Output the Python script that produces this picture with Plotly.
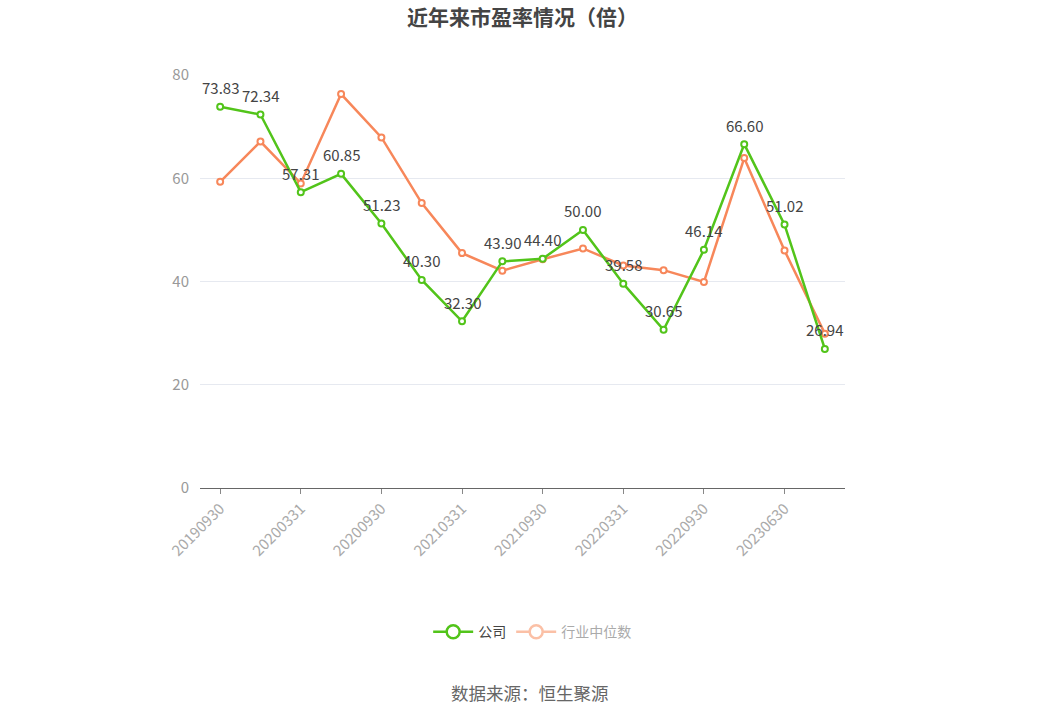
import plotly.graph_objects as go

FONT = "Noto Sans CJK SC"

dates = [
    "20190930", "20191231", "20200331", "20200630",
    "20200930", "20201231", "20210331", "20210630",
    "20210930", "20211231", "20220331", "20220630",
    "20220930", "20221231", "20230630", "20230930",
]
company_pe = [73.83, 72.34, 57.31, 60.85, 51.23, 40.30, 32.30, 43.90,
              44.40, 50.00, 39.58, 30.65, 46.14, 66.60, 51.02, 26.94]
industry_median = [59.3, 67.1, 59.0, 76.3, 67.9, 55.2, 45.5, 42.1,
                   44.3, 46.4, 43.1, 42.2, 39.9, 63.9, 46.0, 29.9]
y_ticks = [0, 20, 40, 60, 80]

GREEN = "#52C41A"
ORANGE = "#F7875A"

fig = go.Figure()
fig.add_trace(go.Scatter(
    x=dates, y=industry_median, mode="lines+markers", showlegend=False,
    line=dict(color=ORANGE, width=2.5),
    marker=dict(symbol="circle", size=6, color="white", line=dict(color=ORANGE, width=2)),
))
fig.add_trace(go.Scatter(
    x=dates, y=company_pe, mode="lines+markers", showlegend=False,
    line=dict(color=GREEN, width=2.5),
    marker=dict(symbol="circle", size=6, color="white", line=dict(color=GREEN, width=2)),
))

# legend entries with bigger symbols
fig.add_trace(go.Scatter(
    x=[None], y=[None], name="公司", mode="lines+markers",
    line=dict(color=GREEN, width=2.5),
    marker=dict(symbol="circle", size=13, color="white", line=dict(color=GREEN, width=2.5)),
))
fig.add_trace(go.Scatter(
    x=[None], y=[None], name='<span style="color:#aaaaaa">行业中位数</span>', mode="lines+markers",
    line=dict(color="#FBC0A6", width=2.5),
    marker=dict(symbol="circle", size=13, color="white", line=dict(color="#FBC0A6", width=2.5)),
))

# value labels; x is the category index (date strings look numeric to annotations)
for i, v in enumerate(company_pe):
    fig.add_annotation(x=i, y=v, text=f"{v:.2f}", showarrow=False, yshift=19,
                       font=dict(size=15, color="#444444", family=FONT))

fig.update_layout(
    width=1062, height=718,
    paper_bgcolor="white", plot_bgcolor="white",
    margin=dict(l=200, r=217, t=75, b=230),
    font=dict(family=FONT, color="#999999"),
    title=dict(text="<b>近年来市盈率情况（倍）</b>", xref="paper", x=0.5, xanchor="center",
               y=0.976, yanchor="middle",
               font=dict(size=21, color="#444444", family=FONT)),
    legend=dict(orientation="h", x=0.515, xanchor="center", y=-0.349, yanchor="middle",
                font=dict(size=14, color="#444444"), traceorder="normal", itemwidth=40),
)
fig.add_annotation(text="数据来源：恒生聚源", xref="paper", yref="paper", x=0.512, y=-0.496,
                   yanchor="middle", showarrow=False,
                   font=dict(size=17.5, color="#666666", family=FONT))
fig.update_xaxes(
    type="category", range=[-0.5, 15.5],
    tickmode="array", tickvals=dates[::2], ticktext=dates[::2],
    tickangle=-45, tickfont=dict(size=15, color="#aaaaaa"),
    ticks="outside", ticklen=5, tickcolor="#888888",
    showline=True, linecolor="#666666", linewidth=1, showgrid=False,
)
fig.update_yaxes(
    range=[0, 80], tickvals=y_ticks, tickfont=dict(size=15, color="#999999"),
    showgrid=True, gridcolor="#e6e9f0", zeroline=False, showline=False, ticks="",
    ticklabelstandoff=10,
)

fig.write_html("out.html", config={"displayModeBar": False},
               post_script="document.body.style.margin='0px';")
